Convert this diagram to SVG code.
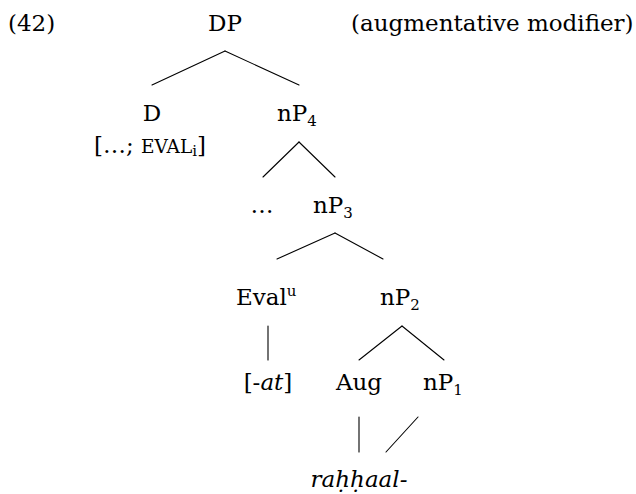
<svg xmlns="http://www.w3.org/2000/svg" width="636" height="494" viewBox="0 0 636 494">
<style>
text { font-family: "DejaVu Serif", "Liberation Serif", serif; font-size: 23px; fill: #000; }
.sub { font-size: 15px; }
.sc { font-size: 18.5px; }
.it { font-style: italic; }
.edge { stroke: #000; stroke-width: 1.1; fill: none; stroke-linecap: round; }
</style>
<rect width="636" height="494" fill="#fff"/>
<g id="label-num"><text x="8" y="31">(42)</text></g>
<g id="label-caption"><text x="351" y="31">(augmentative modifier)</text></g>
<g id="node-DP"><text x="225" y="31" text-anchor="middle">DP</text></g>
<g id="node-D">
  <text x="152" y="121" text-anchor="middle">D</text>
  <text x="150" y="153" text-anchor="middle">[…; <tspan class="sc">EVAL</tspan><tspan class="sub" dy="3">i</tspan><tspan dy="-3">]</tspan></text>
</g>
<g id="node-nP4"><text x="277" y="121">nP<tspan class="sub" dy="5">4</tspan></text></g>
<g id="node-dots"><text x="262" y="213" text-anchor="middle">…</text></g>
<g id="node-nP3"><text x="313" y="213">nP<tspan class="sub" dy="5">3</tspan></text></g>
<g id="node-Eval"><text x="236" y="305">Eval<tspan class="sub" dy="-9">u</tspan></text></g>
<g id="node-nP2"><text x="380" y="305">nP<tspan class="sub" dy="5">2</tspan></text></g>
<g id="node-at"><text x="268" y="390" text-anchor="middle">[-<tspan class="it">at</tspan>]</text></g>
<g id="node-Aug"><text x="359" y="390" text-anchor="middle">Aug</text></g>
<g id="node-nP1"><text x="423" y="390">nP<tspan class="sub" dy="5">1</tspan></text></g>
<g id="node-root"><text class="it" x="359" y="487" text-anchor="middle">raḥḥaal-</text></g>
<g id="connectors">
  <line class="edge" x1="225" y1="51" x2="152" y2="85"/>
  <line class="edge" x1="225" y1="51" x2="299" y2="85"/>
  <line class="edge" x1="299" y1="142" x2="263" y2="177"/>
  <line class="edge" x1="299" y1="142" x2="335" y2="177"/>
  <line class="edge" x1="335" y1="233" x2="277" y2="259"/>
  <line class="edge" x1="335" y1="233" x2="383" y2="259"/>
  <line class="edge" x1="268" y1="326" x2="268" y2="360"/>
  <line class="edge" x1="402" y1="326" x2="359" y2="360"/>
  <line class="edge" x1="402" y1="326" x2="444" y2="360"/>
  <line class="edge" x1="359" y1="417" x2="359" y2="452"/>
  <line class="edge" x1="418" y1="417" x2="386" y2="452"/>
</g>
</svg>
